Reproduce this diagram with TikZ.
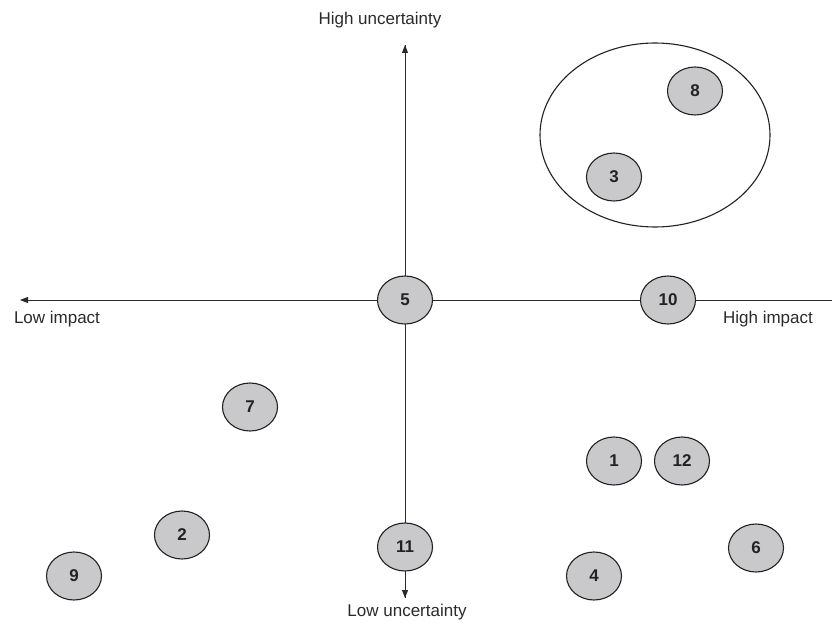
\documentclass[tikz,border=0pt]{standalone}
\usepackage{fontspec}
\setmainfont{Liberation Sans}
\usetikzlibrary{shapes.geometric,arrows.meta}
\definecolor{linegray}{HTML}{2A2A2A}
\definecolor{nodefill}{HTML}{C9C9CB}
\definecolor{nodeedge}{HTML}{222222}
\tikzset{
  item/.style={ellipse, draw=nodeedge, line width=1.1pt, fill=nodefill,
    minimum width=55pt, minimum height=48pt, inner sep=0pt,
    font=\fontsize{17}{17}\selectfont\bfseries, text=nodeedge},
  axis/.style={draw=linegray, line width=0.9pt},
  axistip/.style={-{Triangle[length=8pt,width=6pt]}},
  axislabel/.style={font=\fontsize{17}{17}\selectfont, text=linegray, inner sep=0pt},
  group/.style={ellipse, draw=nodeedge, line width=1.1pt, minimum width=230pt, minimum height=184pt, inner sep=0pt}
}
\begin{document}
\begin{tikzpicture}[x=1pt,y=1pt]
\useasboundingbox (0,0) rectangle (832,-623);
% axes endpoints
\coordinate (right) at (832,-300);
\coordinate (left) at (20,-300);
\coordinate (top) at (405,-45);
\coordinate (bottom) at (405,-598);
\draw[axis,axistip] (right) -- (left);
\draw[axis,axistip] (bottom) -- (top);
\draw[axis,axistip] (top) -- (bottom);
% group ellipse
\node[group] (grp) at (655,-135) {};
% items
\node[item] (n8) at (695,-91) {8};
\node[item] (n3) at (614,-177) {3};
\node[item] (n5) at (405,-300) {5};
\node[item] (n10) at (668,-300) {10};
\node[item] (n7) at (250,-407) {7};
\node[item] (n1) at (614,-461) {1};
\node[item] (n12) at (682,-461) {12};
\node[item] (n2) at (182,-535) {2};
\node[item] (n11) at (405,-547) {11};
\node[item] (n6) at (756,-548) {6};
\node[item] (n9) at (74,-576) {9};
\node[item] (n4) at (594,-576) {4};
% labels
\node[axislabel] (hu) at (380,-20) {High uncertainty};
\node[axislabel] (lu) at (407,-612) {Low uncertainty};
\node[axislabel] (li) at (57,-319) {Low impact};
\node[axislabel] (hi) at (768,-319) {High impact};
\end{tikzpicture}
\end{document}
